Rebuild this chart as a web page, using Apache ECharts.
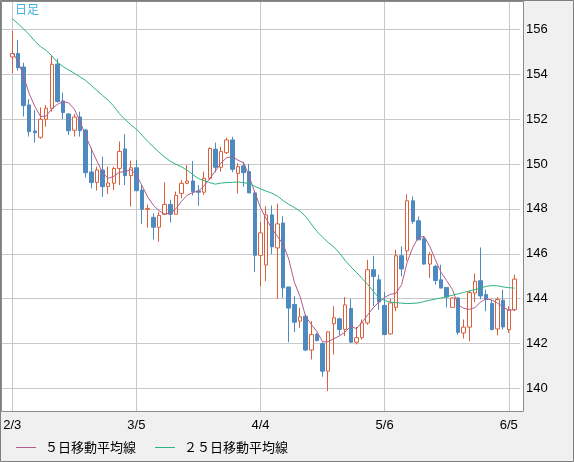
<!DOCTYPE html>
<html>
<head>
<meta charset="utf-8">
<script src="https://cdn.jsdelivr.net/npm/echarts@6/dist/echarts.min.js"></script>
<style>
html,body{margin:0;padding:0;background:#f0f0f0;}
#chart{width:574px;height:462px;}
</style>
</head>
<body>
<div id="chart"></div>
<script>
// ---- data (USD/JPY daily) ----
const dates = [
'2/3','2/4','2/5','2/6','2/7','2/10','2/11','2/12','2/13','2/14',
'2/17','2/18','2/19','2/20','2/21','2/24','2/25','2/26','2/27','2/28',
'3/3','3/4','3/5','3/6','3/7','3/10','3/11','3/12','3/13','3/14',
'3/17','3/18','3/19','3/20','3/21','3/24','3/25','3/26','3/27','3/28',
'3/31','4/1','4/2','4/3','4/4','4/7','4/8','4/9','4/10','4/11',
'4/14','4/15','4/16','4/17','4/18','4/21','4/22','4/23','4/24','4/25',
'4/28','4/29','4/30','5/1','5/2','5/5','5/6','5/7','5/8','5/9',
'5/12','5/13','5/14','5/15','5/16','5/19','5/20','5/21','5/22','5/23',
'5/26','5/27','5/28','5/29','5/30','6/2','6/3','6/4','6/5','6/6'];
const tickLabels = ['2/3','3/5','4/4','5/6','6/5'];
const yTicks = [140,142,144,146,148,150,152,154,156];

const openP = [154.77,154.92,154.32,152.63,151.47,151.19,151.99,152.48,154.45,152.81,
152.23,151.50,152.09,151.51,149.64,149.18,149.73,149.00,149.14,149.80,
150.67,149.48,149.83,148.84,147.98,147.62,147.18,147.76,148.20,147.76,
148.69,149.14,149.24,148.80,148.74,149.36,150.66,149.85,150.50,151.07,
149.58,149.91,149.66,148.71,145.93,145.50,147.73,146.26,147.37,144.52,
143.74,143.00,143.22,141.71,142.40,142.00,140.77,142.88,143.10,142.63,
143.56,142.06,142.26,142.92,145.29,144.84,143.70,142.43,143.61,145.91,
146.13,148.36,147.47,146.67,145.54,145.44,144.84,144.50,143.61,144.03,
142.47,142.73,144.25,144.80,144.18,143.78,142.65,143.93,142.62,143.51];
const closeP = [154.92,154.29,152.60,151.44,151.39,151.99,152.48,154.44,152.78,152.29,
151.48,152.09,151.48,149.61,149.17,149.73,148.99,149.15,149.80,150.56,
149.48,149.83,148.81,147.98,148.02,147.18,147.71,148.20,147.76,148.60,
149.14,149.24,148.77,148.74,149.36,150.69,149.85,150.55,151.07,149.76,
149.88,149.61,148.71,145.93,146.93,147.73,146.31,147.33,144.48,143.58,
142.95,143.19,141.71,142.40,142.13,140.77,142.52,143.15,142.63,143.72,
142.06,142.26,142.92,145.29,144.99,143.85,142.40,143.81,145.91,145.32,
148.36,147.44,146.62,145.54,145.96,144.81,144.47,144.07,144.03,142.50,
142.73,144.27,144.77,144.12,143.96,142.62,143.96,142.74,143.51,144.87];
const lowP = [154.04,154.16,152.11,151.22,150.95,151.12,151.66,152.33,152.73,152.00,
151.29,151.22,151.22,149.40,148.91,148.81,148.54,148.66,148.83,149.06,
149.06,148.10,148.78,147.33,147.16,146.64,146.54,147.72,147.39,147.76,
148.47,149.10,148.60,148.14,148.62,149.28,149.63,149.66,150.45,149.63,
148.69,148.98,148.71,145.18,144.55,144.78,145.99,143.99,144.04,142.06,
142.51,142.70,141.66,141.29,142.10,140.52,139.88,141.51,142.36,142.33,
142.03,141.96,142.18,142.84,143.66,143.51,142.37,142.40,143.44,144.99,
145.69,147.33,146.62,145.51,144.92,144.62,144.47,143.61,143.61,142.40,
142.22,142.10,143.85,143.97,143.44,142.59,142.36,142.62,142.47,143.44];
const highP = [155.94,155.52,154.51,152.89,152.40,152.52,152.63,154.81,154.69,153.18,
152.26,152.23,152.33,151.55,150.70,149.88,150.32,149.88,149.88,151.00,
151.33,150.15,150.17,149.06,148.20,147.80,147.87,149.18,148.40,148.77,
149.29,149.95,150.13,149.06,149.66,150.74,150.95,150.77,151.17,151.21,
150.03,150.10,150.00,148.75,147.42,148.12,148.15,148.23,147.67,144.52,
144.11,143.59,143.29,143.00,142.48,142.06,142.55,143.66,143.15,144.07,
143.99,142.74,143.07,145.73,145.91,145.07,144.30,144.00,146.18,146.33,
148.65,148.55,147.66,146.77,146.07,145.51,145.51,144.50,144.06,144.06,
143.07,144.35,145.12,146.28,144.40,143.96,144.07,144.40,143.66,145.07];
const ma5 = [154.97,154.59,153.91,153.13,152.56,152.12,152.13,152.46,152.65,152.78,
152.72,152.44,151.91,151.25,150.67,150.13,149.61,149.36,149.45,149.63,
149.66,149.75,149.51,149.03,148.53,148.16,147.92,147.77,147.80,148.00,
148.34,148.61,148.73,148.79,149.03,149.35,149.69,150.04,150.28,150.33,
150.17,150.05,149.43,148.73,148.05,147.56,147.12,146.77,146.43,145.76,
144.73,144.10,143.20,142.85,142.53,142.08,142.08,142.22,142.34,142.51,
142.78,142.66,142.95,143.28,143.60,143.85,144.06,144.19,144.24,144.62,
145.63,146.29,146.73,146.77,146.33,145.73,145.17,144.80,144.41,143.73,
143.57,143.52,143.60,143.85,144.00,143.94,143.80,143.62,143.48,143.51];
const ma25 = [156.47,156.25,156.02,155.76,155.47,155.23,155.06,154.82,154.53,154.34,
154.19,154.04,153.88,153.72,153.50,153.27,153.05,152.84,152.57,152.24,
151.98,151.75,151.55,151.28,151.01,150.76,150.53,150.31,150.12,149.99,
149.87,149.72,149.53,149.35,149.26,149.17,149.10,149.15,149.17,149.18,
149.20,149.17,149.12,149.00,148.89,148.79,148.70,148.57,148.37,148.20,
148.06,147.90,147.66,147.32,146.99,146.74,146.50,146.30,146.03,145.70,
145.42,145.17,144.90,144.63,144.32,144.04,143.92,143.84,143.82,143.80,
143.78,143.79,143.81,143.87,143.93,143.98,144.03,144.09,144.15,144.21,
144.28,144.34,144.40,144.47,144.55,144.58,144.57,144.52,144.49,144.47];
const seriesNames = ['５日移動平均線', '２５日移動平均線'];

// ---- build chart ----
const PAD_L = 2, PAD_R = 1;
const cats = ['pad0', 'pad1'].concat(dates, ['pad2']);
const candleData = dates.map((d, i) => [i + PAD_L, openP[i], closeP[i], lowP[i], highP[i]]);
const ma5Data = ma5.map((v, i) => [i + PAD_L, v]);
const ma25Data = ma25.map((v, i) => [i + PAD_L, v]);
const showTick = (idx, val) => tickLabels.indexOf(val) >= 0;

const chart = echarts.init(document.getElementById('chart'), null, {renderer: 'canvas'});
chart.setOption({
  animation: false,
  backgroundColor: '#f0f0f0',
  textStyle: {fontFamily: '"Liberation Sans", "Noto Sans CJK JP", sans-serif'},
  title: {
    text: '日足', left: 15, top: 3, padding: 0,
    textStyle: {fontSize: 12, fontWeight: 'normal', color: '#3fb2e6', fontFamily: '"Noto Sans CJK JP", sans-serif'}
  },
  legend: {
    left: 16, top: 441, padding: 0, icon: 'rect', itemWidth: 20, itemHeight: 1, itemGap: 19,
    data: seriesNames,
    textStyle: {fontSize: 13, color: '#000', fontFamily: '"Noto Sans CJK JP", sans-serif', padding: [0, 0, 0, 4]}
  },
  grid: {left: 1, top: 1, width: 519.06, height: 411, containLabel: false},
  xAxis: {
    type: 'category', data: cats, boundaryGap: false,
    axisLine: {show: false}, axisTick: {show: false},
    axisLabel: {interval: showTick, margin: 7, fontSize: 13, color: '#000'},
    splitLine: {show: true, interval: showTick, lineStyle: {color: '#c8c8c8', width: 1}}
  },
  yAxis: {
    type: 'value', position: 'right', min: 138.95, max: 157.26, scale: true,
    axisLine: {show: false},
    axisTick: {show: false, customValues: yTicks},
    axisLabel: {customValues: yTicks, margin: 6, fontSize: 13, color: '#000'},
    splitLine: {show: true, lineStyle: {color: '#c8c8c8', width: 1}}
  },
  graphic: [
    {type: 'rect', z: -5, shape: {x: 1, y: 1, width: 523, height: 411}, style: {fill: '#ffffff'}},
    {type: 'rect', z: 100, shape: {x: 1.5, y: 1.5, width: 522, height: 410}, style: {fill: null, stroke: '#8a8a8a', lineWidth: 1}},
    {type: 'rect', z: 100, shape: {x: 0.5, y: 0.5, width: 573, height: 461}, style: {fill: null, stroke: '#7f7f7f', lineWidth: 1}}
  ],
  series: [
    {
      type: 'candlestick', name: 'USDJPY', data: candleData,
      encode: {x: 0, y: [1, 2, 3, 4]},
      barWidth: 4,
      itemStyle: {color: '#ffffff', color0: '#4d8ac0', borderColor: '#d9603b', borderColor0: '#4d8ac0', borderWidth: 1}
    },
    {
      type: 'line', name: seriesNames[0], data: ma5Data, symbol: 'none',
      lineStyle: {color: '#b35c88', width: 1}, itemStyle: {color: '#b35c88'}
    },
    {
      type: 'line', name: seriesNames[1], data: ma25Data, symbol: 'none',
      lineStyle: {color: '#2db37d', width: 1}, itemStyle: {color: '#2db37d'}
    }
  ]
});
</script>
</body>
</html>
